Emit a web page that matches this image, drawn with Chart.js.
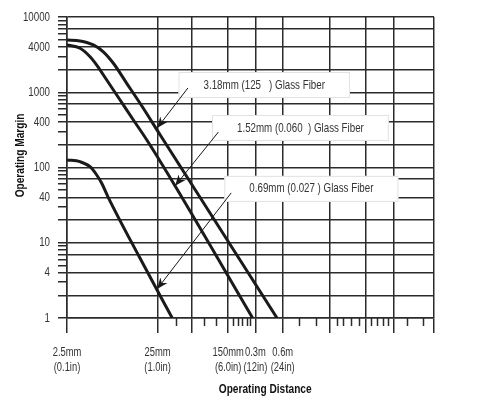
<!DOCTYPE html>
<html>
<head>
<meta charset="utf-8">
<script src="https://cdn.jsdelivr.net/npm/chart.js@4.4.1/dist/chart.umd.min.js"></script>
<style>
  html, body { margin: 0; padding: 0; background: #fff; }
  #chart { display: block; }
</style>
</head>
<body>
<canvas id="chart" width="496" height="405"></canvas>
<script>
// operating distance in mm, operating margin (x)
const dist318 = [2.5, 3.48, 4.88, 6.29, 8.12, 11.4, 16, 26.7, 519];
const margin318 = [4950, 4800, 4250, 3450, 2430, 1315, 713, 270, 1];
const dist152 = [2.5, 3.48, 4.49, 5.32, 6.86, 9.63, 13.5, 19, 39, 279];
const margin152 = [4250, 3850, 2970, 2300, 1455, 789, 428, 232, 56.8, 1];
const dist069 = [2.5, 3.48, 4.49, 5.32, 6.04, 7.1, 16, 36.2];
const margin069 = [126, 119.5, 102.5, 79.5, 61.7, 40.5, 6.21, 1];

// axes
const distMajorTicks = [2.5, 25, 60, 150, 300, 600, 2000, 5000, 10000, 28000];
const distMinorTicks = [40, 82, 110, 170, 195, 215, 240, 260, 900, 1400, 2400, 2800, 3400, 4200, 5600, 6500, 7600, 8600, 14000, 21000];
const distLabels = {
  2.5: ['2.5mm', '(0.1in)'],
  25: ['25mm', '(1.0in)'],
  150: ['150mm', '(6.0in)'],
  300: ['0.3m', '(12in)'],
  600: ['0.6m', '(24in)']
};
const marginGrid = [1, 2, 4, 7, 10, 20, 40, 70, 100, 200, 400, 700, 1000, 2000, 4000, 7000, 10000];
const marginLabels = [1, 4, 10, 40, 100, 400, 1000, 4000, 10000];

// callouts
const calloutText = ['3.18mm (125   ) Glass Fiber', '1.52mm (0.060  ) Glass Fiber', '0.69mm (0.027 ) Glass Fiber'];
const calloutX = [375, 940, 1242];
const calloutY = [1248, 335, 52];
const arrowFromX = [54, 117, 162];
const arrowFromY = [1140, 296, 46];
const arrowToX = [24.7, 39, 24.7];
const arrowToY = [335, 57, 2.43];

const FONT = '"Liberation Sans", Arial, sans-serif';
const INK = '#2b2b2b';
const SQUEEZE = 0.75; // narrow lettering like the printed chart

const marginTicks = [];
[1, 10, 100, 1000].forEach(d => {
  for (let m = 1; m <= 9; m++) marginTicks.push(m * d);
});
marginTicks.push(10000);

const canvas = document.getElementById('chart');
const g = canvas.getContext('2d');
const rawFillText = g.fillText;
g.fillText = function (text, x, y) {
  this.save();
  this.translate(x, y);
  this.scale(SQUEEZE, 1);
  rawFillText.call(this, text, 0, 0);
  this.restore();
};

function toPoints(xs, ys) {
  return xs.map((x, i) => ({ x: x, y: ys[i] }));
}

function drawArrow(ctx, x1, y1, x2, y2) {
  ctx.beginPath();
  ctx.moveTo(x1, y1);
  ctx.lineTo(x2, y2);
  ctx.stroke();
  const a = Math.atan2(y2 - y1, x2 - x1);
  const len = 11, w = 4.5;
  ctx.beginPath();
  ctx.moveTo(x2, y2);
  ctx.lineTo(x2 - len * Math.cos(a) + w * Math.sin(a), y2 - len * Math.sin(a) - w * Math.cos(a));
  ctx.lineTo(x2 - len * 0.7 * Math.cos(a), y2 - len * 0.7 * Math.sin(a));
  ctx.lineTo(x2 - len * Math.cos(a) - w * Math.sin(a), y2 - len * Math.sin(a) + w * Math.cos(a));
  ctx.closePath();
  ctx.fill();
}

const extras = {
  id: 'extras',
  afterDraw(chart) {
    const ctx = chart.ctx;
    const xs = chart.scales.x;
    const ys = chart.scales.y;
    const area = chart.chartArea;
    ctx.save();
    // short ticks under the distance axis
    ctx.strokeStyle = INK;
    ctx.lineWidth = 1.5;
    distMinorTicks.forEach(v => {
      const px = Math.round(xs.getPixelForValue(v)) + 0.5;
      ctx.beginPath();
      ctx.moveTo(px, area.bottom);
      ctx.lineTo(px, area.bottom + 8);
      ctx.stroke();
    });
    // callout boxes
    ctx.font = '13px ' + FONT;
    ctx.textAlign = 'center';
    ctx.textBaseline = 'middle';
    calloutText.forEach((t, i) => {
      const cx = xs.getPixelForValue(calloutX[i]);
      const cy = ys.getPixelForValue(calloutY[i]);
      const w = ctx.measureText(t).width * SQUEEZE + 50;
      const h = 26;
      ctx.fillStyle = '#fff';
      ctx.fillRect(cx - w / 2, cy - h / 2, w, h);
      ctx.strokeStyle = '#e2e2e2';
      ctx.lineWidth = 1;
      ctx.strokeRect(cx - w / 2 + 0.5, cy - h / 2 + 0.5, w - 1, h - 1);
      ctx.fillStyle = '#333';
      ctx.fillText(t, cx, cy);
    });
    // arrows
    ctx.strokeStyle = '#1a1a1a';
    ctx.fillStyle = '#1a1a1a';
    ctx.lineWidth = 1;
    arrowFromX.forEach((v, i) => {
      drawArrow(ctx,
        xs.getPixelForValue(v), ys.getPixelForValue(arrowFromY[i]),
        xs.getPixelForValue(arrowToX[i]), ys.getPixelForValue(arrowToY[i]));
    });
    // axis titles
    ctx.font = 'bold 13.5px ' + FONT;
    ctx.fillStyle = '#111';
    ctx.fillText('Operating Distance', area.left + 0.54 * (area.right - area.left), 389);
    ctx.translate(20, area.top + 0.46 * (area.bottom - area.top));
    ctx.rotate(-Math.PI / 2);
    ctx.fillText('Operating Margin', 0, 0);
    ctx.restore();
  }
};

const lineStyle = {
  borderColor: '#1a1a1a',
  borderWidth: 3,
  pointRadius: 0,
  fill: false,
  cubicInterpolationMode: 'monotone'
};

new Chart(canvas, {
  type: 'line',
  data: {
    datasets: [
      Object.assign({ label: '3.18mm', data: toPoints(dist318, margin318) }, lineStyle),
      Object.assign({ label: '1.52mm', data: toPoints(dist152, margin152) }, lineStyle),
      Object.assign({ label: '0.69mm', data: toPoints(dist069, margin069) }, lineStyle)
    ]
  },
  options: {
    responsive: false,
    animation: false,
    layout: { padding: { left: 0, right: 62, top: 17, bottom: 0 } },
    plugins: {
      legend: { display: false },
      tooltip: { enabled: false }
    },
    scales: {
      x: {
        type: 'logarithmic',
        min: 2.5,
        max: 28000,
        afterBuildTicks: s => { s.ticks = distMajorTicks.map(v => ({ value: v })); },
        afterFit: s => { s.height = 87; },
        grid: { color: INK, lineWidth: 1.5, tickLength: 15, tickColor: INK, tickWidth: 1.5 },
        border: { color: INK, width: 1.5 },
        ticks: {
          autoSkip: false,
          maxRotation: 0,
          minRotation: 0,
          padding: 12,
          color: '#333',
          font: { family: FONT, size: 12.5, lineHeight: 1.2 },
          callback: v => distLabels[v] || ''
        }
      },
      y: {
        type: 'logarithmic',
        min: 1,
        max: 10000,
        afterBuildTicks: s => { s.ticks = marginTicks.map(v => ({ value: v })); },
        afterFit: s => { s.width = 67; },
        grid: {
          color: c => marginGrid.includes(c.tick.value) ? INK : 'rgba(0,0,0,0)',
          lineWidth: 1.5,
          tickLength: 9,
          tickColor: INK,
          tickWidth: 1.5
        },
        border: { color: INK, width: 1.5 },
        ticks: {
          autoSkip: false,
          padding: 8,
          color: '#333',
          font: { family: FONT, size: 13 },
          callback: v => marginLabels.includes(v) ? String(v) : ''
        }
      }
    }
  },
  plugins: [extras]
});
</script>
</body>
</html>
